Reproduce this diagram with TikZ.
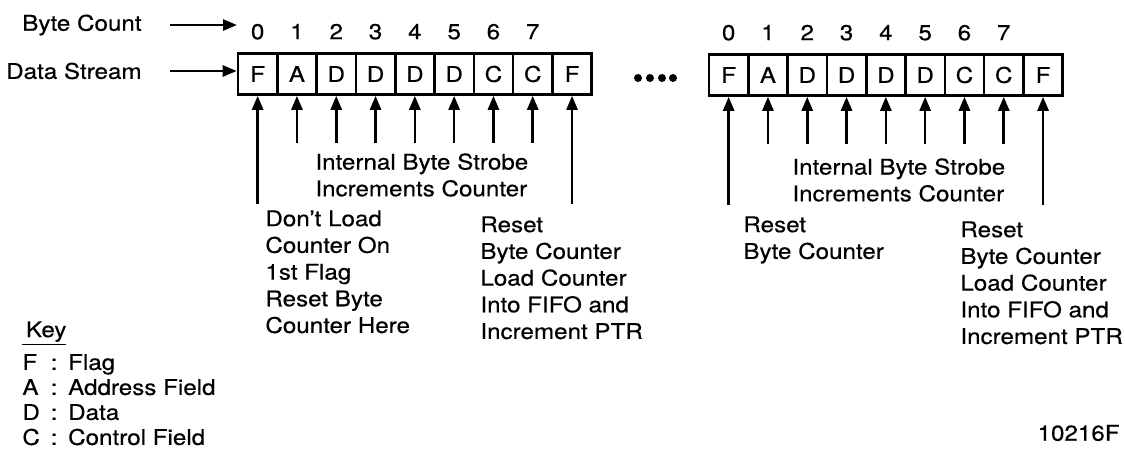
\documentclass[tikz,border=0pt]{standalone}
\usepackage{fontspec}
\setmainfont[FakeStretch=1.12, FakeBold=0.4]{TeX Gyre Heros}
\usetikzlibrary{arrows.meta, calc, positioning}

\tikzset{
  cell/.style={draw, line width=1.3pt, minimum width=19.65pt, minimum height=20.5pt,
    inner sep=0pt, font=\fontsize{10.8}{12}\selectfont},
  digit/.style={anchor=base, inner sep=0pt, font=\fontsize{10.8}{12}\selectfont},
  lbl/.style={anchor=north west, inner sep=0pt, align=left,
    font=\fontsize{10.8}{13.35}\selectfont},
  strobe/.style={line width=1.3pt, -{Triangle[length=7pt, width=5.5pt]}}
}

\begin{document}
\begin{tikzpicture}[x=0.5pt, y=-0.5pt]
  \useasboundingbox (0,0) rectangle (1125,451);

  % the two frames
  \foreach \l [count=\i] in {F,A,D,D,D,D,C,C,F}{
    \node[cell] (a\i) at ({218.35+\i*39.3},74) {\l};
    \node[cell] (b\i) at ({689.35+\i*39.3},75) {\l};
  }
  \foreach \n [count=\i] in {0,...,7}{
    \node[digit] (na\i) at ([yshift=6.5pt]a\i.north) {\n};
    \node[digit] (nb\i) at ([yshift=6.5pt]b\i.north) {\n};
  }

  % strobes from below
  \foreach \i in {1,...,9}{
    \pgfmathsetmacro\len{(\i==1||\i==9)?54:23.5}
    \coordinate (sa\i) at ([yshift=-\len pt]a\i.south);
    \coordinate (sb\i) at ([yshift=-\len pt]b\i.south);
    \draw[strobe] (sa\i) -- (a\i);
    \draw[strobe] (sb\i) -- (b\i);
  }

  % more frames
  \foreach \x in {638,650,662,673}
    \fill (\x,78) circle (2pt);

  % inputs
  \node[lbl, anchor=east] (bytecount) at (142,25) {Byte Count};
  \node[lbl, anchor=east] (datastream) at (142,71) {Data Stream};
  \coordinate (countend) at (237,25);
  \draw[strobe] (170,25) -- (countend);
  \draw[strobe] (170,71) -- (a1.west |- 0,71);

  % notes
  \node[lbl] (strobea) at (315,153) {Internal Byte Strobe\\Increments Counter};
  \node[lbl] (strobeb) at (792,158) {Internal Byte Strobe\\Increments Counter};
  \node[lbl] (firstflag) at (265,210) {Don't Load\\Counter On\\1st Flag\\Reset Byte\\Counter Here};
  \node[lbl] (closea) at (480,216) {Reset\\Byte Counter\\Load Counter\\Into FIFO and\\Increment PTR};
  \node[lbl] (openb) at (743,216) {Reset\\Byte Counter};
  \node[lbl] (closeb) at (960,221) {Reset\\Byte Counter\\Load Counter\\Into FIFO and\\Increment PTR};

  % key
  \node[lbl] (key) at (22,321) {\underline{\,Key}};
  \node[lbl, font=\fontsize{10.8}{12.5}\selectfont] (keylist) at (22,352) {%
    \begin{tabular}{@{}l@{\enspace:\enspace}l@{}}
      F & Flag\\
      A & Address Field\\
      D & Data\\
      C & Control Field
    \end{tabular}};
  \node[lbl, anchor=east] (figno) at (1120,433) {10216F};
\end{tikzpicture}
\end{document}
